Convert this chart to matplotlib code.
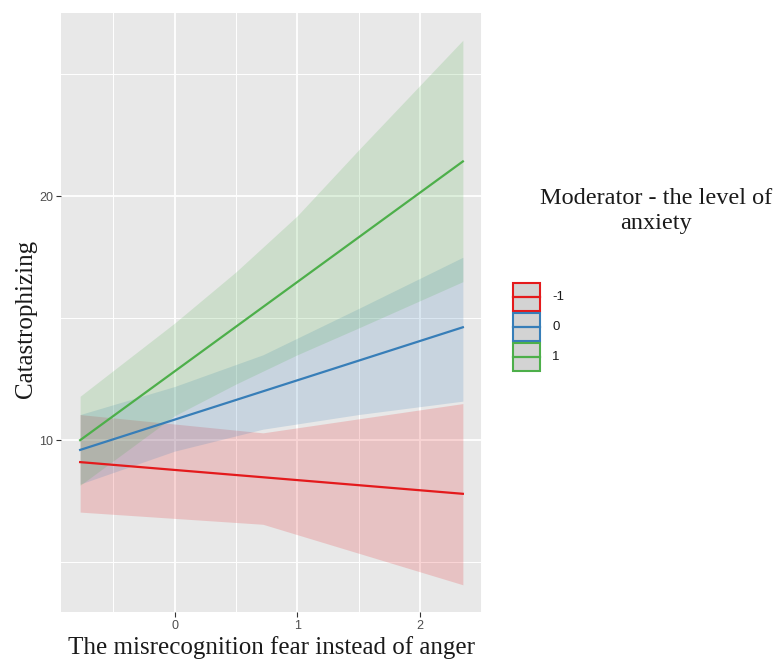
import matplotlib.pyplot as plt
from matplotlib.patches import Rectangle
from matplotlib.ticker import FixedLocator

# fitted lines (start/end of x range)
x_line = [-0.77, 2.35]
fit_m1 = [9.1, 7.8]
fit_0 = [9.6, 14.63]
fit_1 = [10.0, 21.43]

# confidence ribbons, read at a few x positions
x_rib_m1 = [-0.77, 0.72, 2.35]
lo_m1 = [7.05, 6.55, 4.07]
hi_m1 = [11.05, 10.3, 11.5]

x_rib_0 = [-0.77, 0.0, 0.72, 1.5, 2.35]
lo_0 = [8.2, 9.55, 10.45, 11.05, 11.6]
hi_0 = [11.05, 12.2, 13.5, 15.4, 17.5]

x_rib_1 = [-0.77, 0.0, 0.5, 1.0, 1.5, 2.35]
lo_1 = [8.15, 11.0, 12.3, 13.5, 14.6, 16.5]
hi_1 = [11.8, 14.8, 16.9, 19.2, 21.9, 26.4]

groups = ['-1', '0', '1']
colors = ['#E41A1C', '#377EB8', '#4DAF4A']

W, H = 782, 664
fig = plt.figure(figsize=(W / 100, H / 100), dpi=100)
ax = fig.add_axes([61 / W, 1 - 612 / H, 421 / W, 599 / H])
ax.set_facecolor('#E8E8E8')
for s in ax.spines.values():
    s.set_visible(False)

ribbons = [(x_rib_m1, lo_m1, hi_m1), (x_rib_0, lo_0, hi_0), (x_rib_1, lo_1, hi_1)]
fits = [fit_m1, fit_0, fit_1]
for (xr, lo, hi), fit, c in zip(ribbons, fits, colors):
    ax.fill_between(xr, lo, hi, color=c, alpha=0.18, linewidth=0, zorder=2)
    ax.plot(x_line, fit, color=c, lw=1.6, zorder=3)

ax.margins(x=0.05, y=0.05)
ax.xaxis.set_major_locator(FixedLocator([0, 1, 2]))
ax.xaxis.set_minor_locator(FixedLocator([-0.5, 0.5, 1.5, 2.5]))
ax.yaxis.set_major_locator(FixedLocator([10, 20]))
ax.yaxis.set_minor_locator(FixedLocator([5, 15, 25]))
ax.grid(which='major', color='white', lw=1.3, zorder=0)
ax.grid(which='minor', color='white', lw=0.7, zorder=0)
ax.set_axisbelow(True)
ax.tick_params(which='major', length=3.5, width=0.8, color='#333333',
               labelcolor='#4D4D4D', labelsize=9, pad=2,
               labelfontfamily='Liberation Sans')
ax.tick_params(which='minor', length=0)

ax.set_xlabel('The misrecognition fear instead of anger',
              family='Liberation Serif', fontsize=18, color='#1A1A1A')
ax.set_ylabel('Catastrophizing', family='Liberation Serif', fontsize=18, color='#1A1A1A')
ax.xaxis.set_label_coords(0.5, -0.04)
ax.yaxis.set_label_coords(-0.057, 0.49)

# legend keys drawn in a small axes of their own
lax = fig.add_axes([512 / W, 1 - 372 / H, 29 / W, 90 / H])
lax.set_xlim(0, 1)
lax.set_ylim(0, 3)
lax.axis('off')
for i, (g, c) in enumerate(zip(groups, colors)):
    y0 = 2 - i
    lax.add_patch(Rectangle((0.03, y0 + 0.03), 0.94, 0.94, facecolor='#D3D3D3',
                            edgecolor=c, lw=1.5, clip_on=False))
    lax.plot([0.03, 0.97], [y0 + 0.5, y0 + 0.5], color=c, lw=1.6, clip_on=False)
    lax.text(1.38, y0 + 0.5, g, ha='left', va='center', fontsize=9.5,
             family='Liberation Sans', color='#1A1A1A')

fig.text(656 / W, 1 - 211 / H, 'Moderator - the level of\nanxiety', ha='center', va='center',
         family='Liberation Serif', fontsize=17.5, color='#1A1A1A', linespacing=1.3)

fig.savefig('out.png', dpi=100)
